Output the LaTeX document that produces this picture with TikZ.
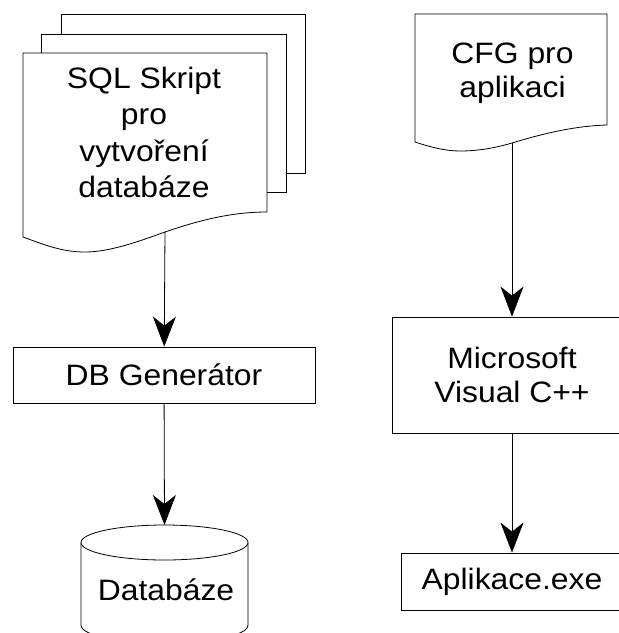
\documentclass[tikz,border=0pt]{standalone}
\usepackage{fontspec}
\setmainfont[FakeStretch=1.08]{Liberation Sans}
\usetikzlibrary{arrows.meta,positioning}

\begin{document}
\begin{tikzpicture}[x=1pt,y=-1pt,
		txt/.style={align=center,inner sep=0pt,font=\fontsize{29.5}{34}\selectfont},
		box/.style={txt,draw,line width=0.8pt},
		docline/.style={line width=0.8pt,fill=white},
		flow/.style={line width=0.8pt,-{Stealth[length=30pt,width=23pt,inset=9pt]}}]
				
				\useasboundingbox (0,0) rectangle (619,633);
				
				% SQL skript (tri listy)
				\draw[docline] (61,34) -- (61,14) -- (305,14) -- (305,173) -- (286,173);
				\draw[docline] (41,53) -- (41,34) -- (286,34) -- (286,192) -- (267,192);
				\draw[docline] (23,237) -- (23,53) -- (267,53) -- (267,212) .. controls (232,212) and (200,220) .. (165,232) .. controls (140,241) and (110,252) .. (85,252) .. controls (62,252) and (45,245) .. (23,237) -- cycle;
				\node[txt,font=\fontsize{29.5}{36.3}\selectfont] (sql) at (144,132.5) {SQL Skript\\pro\\vytvoření\\databáze};
				\coordinate (sqlout) at (165,232);
				
				% DB generator
				\node[box,minimum width=302pt,minimum height=56pt] (dbgen) at (164,375) {DB Generátor};
				
				% Databaze
				\draw[docline] (81,542.5) -- (81,625) .. controls (81,648) and (248,648) .. (248,625) -- (248,542.5);
				\draw[docline] (164.5,542.5) ellipse[x radius=83.5,y radius=17.5];
				\node[txt] (db) at (166,590) {Databáze};
				\coordinate (dbtop) at (164.5,525);
				
				% CFG pro aplikaci
				\draw[docline] (415,142) -- (415,14) -- (607,14) -- (607,125) .. controls (575,126) and (545,133) .. (512,143) .. controls (495,148) and (478,151) .. (460,151) .. controls (445,151) and (430,147) .. (415,142) -- cycle;
				\node[txt] (cfg) at (512.5,73) {CFG pro\\aplikaci};
				\coordinate (cfgout) at (512,143);
				
				% Visual C++ a vysledek
				\node[box,minimum width=240pt,minimum height=116pt] (msvc) at (512,375) {Microsoft\\Visual C++};
				\node[box,minimum width=222pt,minimum height=57pt] (app) at (512,581.5) {Aplikace.exe};
				
				% Sipky
				\draw[flow] (sqlout) -- (dbgen);
				\draw[flow] (dbgen) -- (dbtop);
				\draw[flow] (cfgout) -- (msvc);
				\draw[flow] (msvc) -- (app);
				
			\end{tikzpicture}
\end{document}
